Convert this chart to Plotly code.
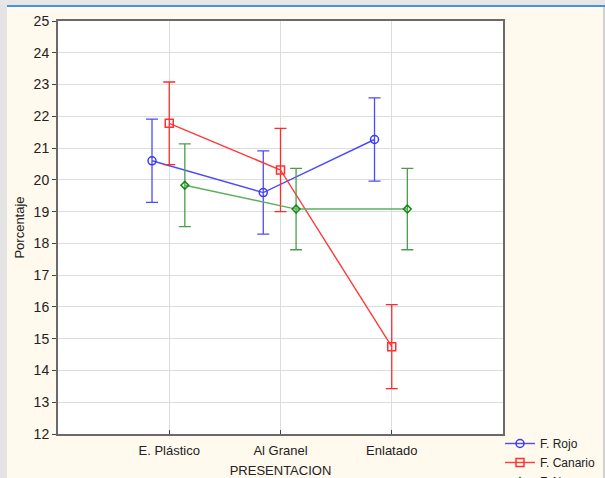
import plotly.graph_objects as go

categories = ["E. Plástico", "Al Granel", "Enlatado"]
series_names = ["F. Rojo", "F. Canario", "F. Negro"]

rojo_mean = [20.6, 19.6, 21.27]
rojo_err = [1.31, 1.31, 1.31]
canario_mean = [21.78, 20.31, 14.75]
canario_err = [1.3, 1.31, 1.32]
negro_mean = [19.83, 19.08, 19.08]
negro_err = [1.3, 1.28, 1.28]

y_ticks = list(range(12, 26))

means = [rojo_mean, canario_mean, negro_mean]
errs = [rojo_err, canario_err, negro_err]
offsets = [-0.155, 0.0, 0.14]
line_colors = ["#4a4aff", "#ff3a3a", "#5fae5f"]
err_colors = ["#4a4aff", "#ff2a2a", "#4a9e4a"]
marker_colors = ["#3838ff", "#ff3030", "#118811"]
symbols = ["circle-open", "square-open", "diamond-open"]
msizes = [8, 8, 6]

fig = go.Figure()
for name, m, e, off, lc, ec, mc, sym, ms in zip(series_names, means, errs, offsets,
                                                line_colors, err_colors, marker_colors,
                                                symbols, msizes):
    xs = [i + off for i in range(len(categories))]
    fig.add_trace(go.Scatter(
        x=xs, y=m, name=name, mode="lines+markers",
        line=dict(color=lc, width=1.4),
        marker=dict(symbol=sym, size=ms, color=mc, line=dict(width=1.5, color=mc)),
        error_y=dict(type="data", array=e, visible=True, color=ec, thickness=1.3, width=6),
    ))

W, H = 605, 478
ml, mr, mt, mb = 58, 102, 21, 44
pw, ph = W - ml - mr, H - mt - mb

def px(x):
    return (x - ml) / pw

def py(y):
    return (H - mb - y) / ph

shapes = [
    dict(type="rect", xref="paper", yref="paper", x0=px(0), x1=px(W), y0=py(5), y1=py(0),
         fillcolor="#e6e6e6", line=dict(width=0), layer="below"),
    dict(type="rect", xref="paper", yref="paper", x0=px(7), x1=px(W), y0=py(7), y1=py(5),
         fillcolor="#4a92dc", line=dict(width=0), layer="below"),
    dict(type="rect", xref="paper", yref="paper", x0=px(0), x1=px(7), y0=py(H), y1=py(5),
         fillcolor="#e4e4e4", line=dict(width=0), layer="below"),
    dict(type="rect", xref="paper", yref="paper", x0=px(603), x1=px(W), y0=py(H), y1=py(7),
         fillcolor="#d0d0d0", line=dict(width=0), layer="below"),
]

font_fam = "Liberation Sans, Arial, sans-serif"

fig.update_layout(
    width=W, height=H, autosize=False,
    margin=dict(l=ml, r=mr, t=mt, b=mb, pad=0, autoexpand=False),
    paper_bgcolor="#fff9ee",
    plot_bgcolor="#ffffff",
    font=dict(family=font_fam, size=13, color="#222222"),
    shapes=shapes,
    showlegend=True,
    legend=dict(x=px(500), y=py(429), xanchor="left", yanchor="top",
                bgcolor="rgba(0,0,0,0)", font=dict(size=12, color="#222222"),
                itemwidth=30, tracegroupgap=0),
    xaxis=dict(
        range=[-1, 3], tickmode="array", tickvals=list(range(len(categories))),
        ticktext=categories, showgrid=True, gridcolor="#dddddd", gridwidth=1,
        zeroline=False, showline=True, linecolor="#6a6a6a", linewidth=2, mirror=True,
        ticks="inside", ticklen=4, tickcolor="#444444", automargin=False,
        ticklabelstandoff=3,
        tickfont=dict(size=13), title=dict(text="PRESENTACION", font=dict(size=13), standoff=12),
    ),
    yaxis=dict(
        range=[12, 25], tickmode="array", tickvals=y_ticks,
        ticktext=[str(t) for t in y_ticks], showgrid=True, gridcolor="#dddddd", gridwidth=1,
        zeroline=False, showline=True, linecolor="#6a6a6a", linewidth=2, mirror=True,
        ticks="outside", ticklen=4, tickcolor="#444444", automargin=False,
        tickfont=dict(size=14), title=dict(text="Porcentaje", font=dict(size=13), standoff=6),
    ),
)

fig.write_html(
    "out.html",
    config={"responsive": False, "displayModeBar": False},
    post_script="document.body.style.margin='0';document.body.style.padding='0';"
                "document.body.style.overflow='hidden';",
)
